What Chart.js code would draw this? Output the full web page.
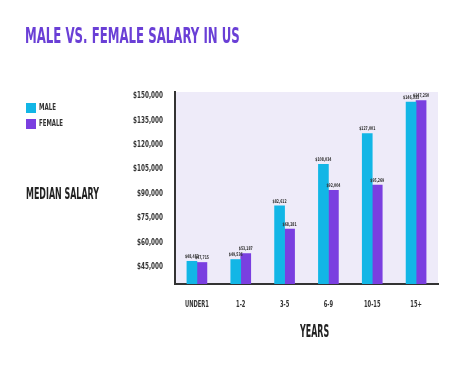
<!DOCTYPE html>
<html>
<head>
<meta charset="utf-8">
<script src="https://cdn.jsdelivr.net/npm/chart.js@4/dist/chart.umd.min.js"></script>
<style>
  html, body { margin: 0; padding: 0; background: #fff; }
  #wrap { position: relative; width: 474px; height: 366px; }
  .txt { position: absolute; font-family: 'DejaVu Sans', sans-serif; font-stretch: condensed; font-weight: bold;
         white-space: nowrap; transform-origin: 0 50%; line-height: 1; }
  #title { left: 25px; top: 26px; font-size: 21px; color: #6a3fd6; }
  #ylab { left: 26px; top: 187px; font-size: 15px; color: #222; }
  #xlab { top: 323px; font-size: 17px; color: #222; }
  .leg { left: 39px; font-size: 9px; color: #333; }
  .sq { position: absolute; left: 26px; width: 10px; height: 10px; }
</style>
</head>
<body>
<div id="wrap">
  <div class="txt" id="title" data-w="215">MALE VS. FEMALE SALARY IN US</div>
  <div class="sq" style="top:103px;background:#12b6e6"></div>
  <div class="txt leg" style="top:103px" data-w="17">MALE</div>
  <div class="sq" style="top:119px;background:#7a3fe0"></div>
  <div class="txt leg" style="top:119px" data-w="24">FEMALE</div>
  <div class="txt" id="ylab" data-w="73">MEDIAN SALARY</div>
  <div class="txt" id="xlab" data-w="29" data-cx="314">YEARS</div>
  <canvas id="salary" width="474" height="366"></canvas>
</div>
<script>
(function () {
    "use strict";

    const years = ["UNDER1", "1-2", "3-5", "6-9", "10-15", "15+"];
    const male = [48453, 49536, 82612, 108034, 127001, 146333];
    const female = [47715, 53187, 68281, 92004, 95269, 147250];
    const yTicks = [45000, 60000, 75000, 90000, 105000, 120000, 135000, 150000];

    const font = "'DejaVu Sans', sans-serif";
    const money = v => "$" + v.toLocaleString("en-US");

    // squeeze the html labels to the narrow widths of the original
    document.querySelectorAll(".txt").forEach(el => {
        const w = +el.dataset.w;
        el.style.transform = "scaleX(" + (w / el.offsetWidth) + ")";
        if (el.dataset.cx) el.style.left = (+el.dataset.cx - w / 2) + "px";
    });

    // narrow text on the canvas: scale x so that `sample` is `width` px wide
    function narrow(c, size, sample, width) {
        c.font = "bold " + size + "px " + font;
        return width / c.measureText(sample).width;
    }
    function put(c, text, x, y, sx) {
        c.save();
        c.translate(x, y);
        c.scale(sx, 1);
        c.fillText(text, 0, 0);
        c.restore();
    }

    // plot background
    const plotBg = {
        id: "plotBg",
        beforeDraw(chart) {
            const a = chart.chartArea, c = chart.ctx;
            c.save();
            c.fillStyle = "#eeebf9";
            c.fillRect(a.left, a.top, a.right - a.left, a.bottom - a.top);
            c.restore();
        }
    };

    // tick labels and value labels, drawn narrow like the original font
    const labels = {
        id: "labels",
        afterDatasetsDraw(chart) {
            const c = chart.ctx, xs = chart.scales.x, ys = chart.scales.y;
            c.save();
            c.fillStyle = "#333";
            c.textBaseline = "middle";

            c.textAlign = "right";
            let sx = narrow(c, 8.5, "$150,000", 30);
            yTicks.forEach(v => put(c, money(v), 163, ys.getPixelForValue(v), sx));

            c.textAlign = "center";
            sx = narrow(c, 9.5, "UNDER1", 24);
            years.forEach((t, i) => put(c, t, xs.getPixelForValue(i), 305, sx));

            c.textBaseline = "bottom";
            sx = narrow(c, 5, "$48,453", 14);
            chart.data.datasets.forEach((ds, i) => {
                chart.getDatasetMeta(i).data.forEach((bar, j) => {
                    put(c, money(ds.data[j]), bar.x, bar.y - 2, sx);
                });
            });
            c.restore();
        }
    };

    new Chart(document.getElementById("salary"), {
        type: "bar",
        data: {
            labels: years,
            datasets: [
                { label: "MALE", data: male, backgroundColor: "#12b6e6", barThickness: 10 },
                { label: "FEMALE", data: female, backgroundColor: "#7a3fe0", barThickness: 10 }
            ]
        },
        options: {
            responsive: false,
            animation: false,
            layout: { padding: { left: 115, right: 36, top: 92, bottom: 22 } },
            plugins: { legend: { display: false }, tooltip: { enabled: false } },
            scales: {
                x: {
                    grid: { display: false },
                    border: { display: true, color: "#333", width: 2 },
                    ticks: { display: false },
                    afterFit(scale) { scale.height = 60; }
                },
                y: {
                    min: 34500,
                    max: 152500,
                    grid: { display: false },
                    border: { display: true, color: "#333", width: 2 },
                    afterBuildTicks(scale) { scale.ticks = yTicks.map(v => ({ value: v })); },
                    ticks: { display: false },
                    afterFit(scale) { scale.width = 60; }
                }
            }
        },
        plugins: [plotBg, labels]
    });
})();
</script>
</body>
</html>
